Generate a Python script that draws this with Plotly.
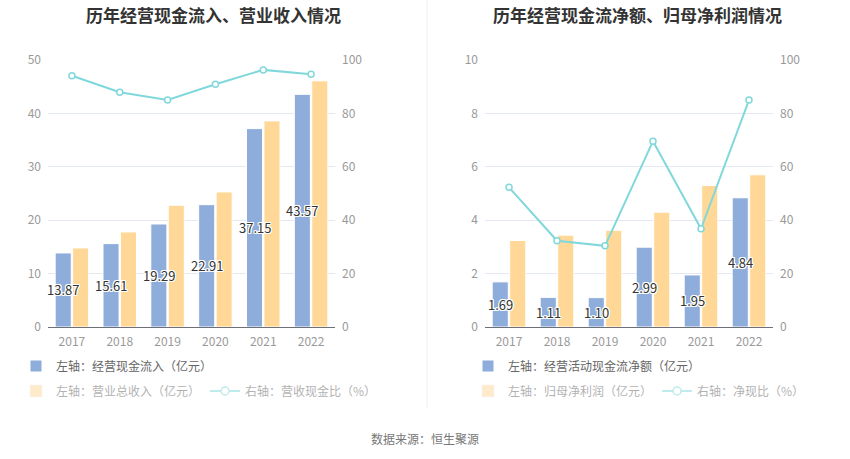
import plotly.graph_objects as go

years = ["2017", "2018", "2019", "2020", "2021", "2022"]

# Left chart
cash_inflow = [13.87, 15.61, 19.29, 22.91, 37.15, 43.57]
revenue = [14.8, 17.8, 22.8, 25.3, 38.6, 46.1]
cash_ratio = [94.1, 87.9, 85.0, 90.9, 96.3, 94.7]

# Right chart
op_cash_net = [1.69, 1.11, 1.10, 2.99, 1.95, 4.84]
net_profit = [3.24, 3.44, 3.62, 4.30, 5.30, 5.70]
net_ratio = [52.3, 32.3, 30.4, 69.6, 36.8, 85.0]

title_left = "历年经营现金流入、营业收入情况"
title_right = "历年经营现金流净额、归母净利润情况"
leg_left = ["左轴：经营现金流入（亿元）", "左轴：营业总收入（亿元）", "右轴：营收现金比（%）"]
leg_right = ["左轴：经营活动现金流净额（亿元）", "左轴：归母净利润（亿元）", "右轴：净现比（%）"]
source = "数据来源：恒生聚源"

W, H = 850, 459
BLUE = "#8eadda"
ORANGE = "#ffd898"
CYAN = "#80d8da"
FONT = "Noto Sans CJK SC"
shadow = "1px 1px 0 #fff, -1px -1px 0 #fff, 1px -1px 0 #fff, -1px 1px 0 #fff, 0 1px 0 #fff, 1px 0 0 #fff, 0 -1px 0 #fff, -1px 0 0 #fff"
BARGAP = 0.27

def px(x):
    return x / W

def py(y):
    return 1 - y / H

fig = go.Figure()
annotations = []

def add_chart(xa, ya, ya2, blue_vals, orange_vals, ratio_vals, names, leg_a, leg_b, plot_w):
    fig.add_trace(go.Bar(
        x=years, y=blue_vals, name=names[0], xaxis=xa, yaxis=ya,
        marker=dict(color=BLUE, line=dict(color="white", width=1)),
        offsetgroup="a", showlegend=True, legend=leg_a, hoverinfo="x+y",
    ))
    fig.add_trace(go.Bar(
        x=years, y=orange_vals, name=names[1], xaxis=xa, yaxis=ya,
        marker=dict(color=ORANGE, line=dict(color="white", width=1)),
        offsetgroup="b", showlegend=False, hoverinfo="x+y",
    ))
    fig.add_trace(go.Scatter(
        x=years, y=ratio_vals, name=names[2], xaxis=xa, yaxis=ya2,
        mode="lines+markers", line=dict(color=CYAN, width=2),
        marker=dict(symbol="circle", size=6, color="white", line=dict(color=CYAN, width=1.5)),
        showlegend=False, cliponaxis=False,
    ))
    # faded legend entries
    fig.add_trace(go.Bar(
        x=[None], y=[None], name=names[1], xaxis=xa, yaxis=ya,
        marker=dict(color=ORANGE), visible="legendonly", legend=leg_b,
    ))
    fig.add_trace(go.Scatter(
        x=[None], y=[None], name=names[2], xaxis=xa, yaxis=ya2,
        mode="lines+markers", line=dict(color=CYAN, width=2),
        marker=dict(symbol="circle", size=8, color="white", line=dict(color=CYAN, width=1.5)),
        visible="legendonly", legend=leg_b,
    ))
    # value labels centred on the blue bars
    cat_w = plot_w / len(years)
    shift = -cat_w * (1 - BARGAP) / 4
    for i, v in enumerate(blue_vals):
        annotations.append(dict(
            x=i, y=v / 2, xref=xa, yref=ya, text=f"{v:.2f}", showarrow=False,
            xshift=shift, xanchor="center", yanchor="middle",
            font=dict(color="#333", size=13, family=FONT, shadow=shadow),
        ))

x1a, x1b = 48, 335
x2a, x2b = 485, 773

add_chart("x", "y", "y2", cash_inflow, revenue, cash_ratio, leg_left, "legend", "legend2", x1b - x1a)
add_chart("x2", "y3", "y4", op_cash_net, net_profit, net_ratio, leg_right, "legend3", "legend4", x2b - x2a)

ydom = [py(327), py(60)]
tickfont = dict(color="#999", size=12, family=FONT)
grid = "#e3e8f2"

def xaxis(dom, anchor):
    return dict(domain=dom, anchor=anchor, type="category", showgrid=False,
                range=[-0.5, len(years) - 0.5],
                showline=True, linecolor="#6e7079", linewidth=1, ticks="",
                tickfont=tickfont, ticklabelstandoff=4, fixedrange=True, automargin=False)

def yleft(rng, dt, anchor):
    return dict(domain=ydom, anchor=anchor, range=rng, dtick=dt, showgrid=True,
                gridcolor=grid, gridwidth=1, zeroline=False, showline=False,
                tickfont=tickfont, ticklabelstandoff=6, fixedrange=True, automargin=False)

def yright(overlay, anchor):
    return dict(overlaying=overlay, anchor=anchor, side="right", range=[0, 100], dtick=20,
                showgrid=False, zeroline=False, showline=False, tickfont=tickfont,
                ticklabelstandoff=6, fixedrange=True, automargin=False)

dom1 = [px(x1a), px(x1b)]
dom2 = [px(x2a), px(x2b)]

legfont = dict(color="#666", size=12, family=FONT)

def leg(x, y):
    return dict(x=px(x), y=py(y), xanchor="left", yanchor="middle", orientation="h",
                font=legfont, bgcolor="rgba(0,0,0,0)", itemclick=False, itemdoubleclick=False)

annotations += [
    dict(text=f"<b>{title_left}</b>", x=px(213), y=py(15), xref="paper", yref="paper",
         showarrow=False, xanchor="center", yanchor="middle",
         font=dict(size=17, color="#333", family=FONT)),
    dict(text=f"<b>{title_right}</b>", x=px(637), y=py(15), xref="paper", yref="paper",
         showarrow=False, xanchor="center", yanchor="middle",
         font=dict(size=17, color="#333", family=FONT)),
    dict(text=source, x=px(425), y=py(438), xref="paper", yref="paper",
         showarrow=False, xanchor="center", yanchor="middle",
         font=dict(size=12, color="#777", family=FONT)),
]

fig.update_layout(
    width=W, height=H,
    margin=dict(l=0, r=0, t=0, b=0),
    paper_bgcolor="white", plot_bgcolor="white",
    font=dict(family=FONT),
    barmode="group", bargap=BARGAP, bargroupgap=0.08,
    xaxis=xaxis(dom1, "y"),
    yaxis=yleft([0, 50], 10, "x"),
    yaxis2=yright("y", "x"),
    xaxis2=xaxis(dom2, "y3"),
    yaxis3=yleft([0, 10], 2, "x2"),
    yaxis4=yright("y3", "x2"),
    legend=leg(16, 366),
    legend2=leg(16, 391),
    legend3=leg(468, 366),
    legend4=leg(468, 391),
    annotations=annotations,
    shapes=[
        dict(type="line", xref="paper", yref="paper", x0=px(427), x1=px(427),
             y0=py(408), y1=1, line=dict(color="#eeeeee", width=1)),
    ],
)

fig.write_html("out.html")
